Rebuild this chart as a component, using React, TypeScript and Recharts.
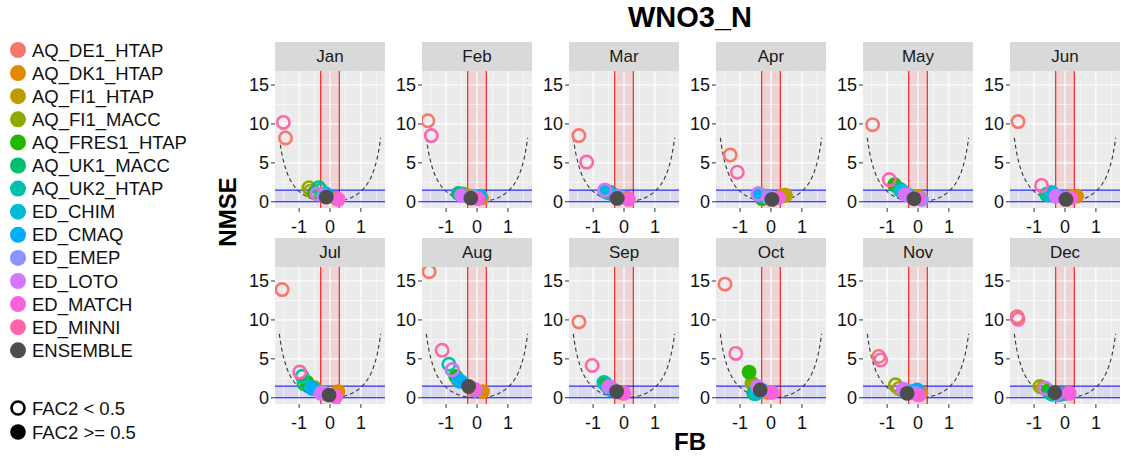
import { ScatterChart, Scatter, XAxis, YAxis, ReferenceLine, ReferenceArea } from "recharts";

const MONTHS = ["Jan", "Feb", "Mar", "Apr", "May", "Jun", "Jul", "Aug", "Sep", "Oct", "Nov", "Dec"];

const MODELS = [
  "AQ_DE1_HTAP", "AQ_DK1_HTAP", "AQ_FI1_HTAP", "AQ_FI1_MACC", "AQ_FRES1_HTAP", "AQ_UK1_MACC",
  "AQ_UK2_HTAP", "ED_CHIM", "ED_CMAQ", "ED_EMEP", "ED_LOTO", "ED_MATCH", "ED_MINNI", "ENSEMBLE",
];

const MODEL_COLORS = [
  "#F8766D", "#E18A00", "#BE9C00", "#8CAB00", "#24B700", "#00BE70",
  "#00C1AB", "#00BBDA", "#00ACFC", "#8B93FF", "#D575FE", "#F962DD", "#FF65AC", "#4D4D4D",
];

// FB per model, Jan..Dec
const FB_DE1 = [-1.44, -1.59, -1.46, -1.32, -1.47, -1.52, -1.55, -1.55, -1.46, -1.49, -1.27, -1.55];
const FB_DK1 = [0.2, 0.15, 0.1, 0.4, 0.05, 0.38, 0.26, 0.18, -0.05, -0.1, 0.1, 0.0];
const FB_FI1H = [-0.62, -0.3, -0.35, 0.47, -0.05, 0.2, -0.2, -0.1, -0.4, -0.55, -0.62, -0.7];
const FB_FI1M = [-0.68, -0.45, -0.5, -0.3, -0.55, -0.4, -0.5, -0.6, -0.55, -0.62, -0.73, -0.81];
const FB_FRES = [-0.5, -0.55, -0.45, -0.29, -0.76, -0.55, -0.75, -0.69, -0.6, -0.71, -0.4, -0.55];
const FB_UK1 = [-0.36, -0.6, -0.55, -0.42, -0.6, -0.6, -0.84, -0.8, -0.6, -0.56, -0.45, -0.45];
const FB_UK2 = [-0.3, -0.5, -0.5, -0.4, -0.55, -0.55, -0.9, -0.91, -0.65, -0.5, -0.4, -0.4];
const FB_CHIM = [-0.15, 0.1, -0.62, -0.35, -0.52, -0.43, -0.6, -0.6, -0.5, -0.45, -0.2, -0.2];
const FB_CMAQ = [-0.1, 0.05, -0.3, -0.4, -0.35, -0.3, -0.57, -0.53, -0.4, -0.35, -0.03, -0.1];
const FB_EMEP = [-0.2, -0.1, -0.2, -0.1, 0.11, 0.0, -0.2, -0.05, -0.15, -0.25, -0.1, -0.25];
const FB_LOTO = [-0.42, -0.5, -0.62, -0.42, -0.41, -0.29, -0.3, -0.8, -0.49, -0.43, -0.48, -0.63];
const FB_MATCH = [0.27, 0.03, 0.14, 0.24, 0.0, 0.2, 0.18, -0.08, 0.0, 0.03, 0.02, 0.14];
const FB_MINNI = [-1.51, -1.48, -1.21, -1.09, -0.93, -0.76, -0.98, -1.13, -1.03, -1.14, -1.21, -1.52];
const FB_ENS = [-0.12, -0.2, -0.22, 0.03, -0.13, 0.03, -0.03, -0.27, -0.24, -0.35, -0.35, -0.33];

// NMSE per model, Jan..Dec
const NMSE_DE1 = [8.2, 10.4, 8.5, 6.0, 9.9, 10.3, 13.9, 16.2, 9.75, 14.6, 5.3, 10.4];
const NMSE_DK1 = [0.45, 0.5, 0.45, 0.8, 0.55, 0.72, 0.8, 0.8, 0.6, 0.7, 0.6, 0.5];
const NMSE_FI1H = [1.4, 0.8, 0.9, 0.85, 0.7, 0.6, 0.6, 1.0, 1.2, 1.6, 1.2, 1.3];
const NMSE_FI1M = [1.8, 1.0, 1.2, 0.8, 1.5, 1.0, 1.3, 2.2, 1.6, 1.9, 1.66, 1.44];
const NMSE_FRES = [1.2, 0.95, 1.2, 0.4, 2.2, 1.0, 2.0, 2.75, 1.75, 3.3, 0.9, 0.9];
const NMSE_UK1 = [1.8, 1.07, 1.3, 1.0, 1.65, 0.94, 1.8, 3.6, 1.8, 0.57, 0.8, 0.5];
const NMSE_UK2 = [1.5, 0.9, 1.2, 1.0, 1.4, 0.9, 2.75, 4.3, 1.97, 0.5, 0.7, 0.45];
const NMSE_CHIM = [1.0, 0.7, 1.36, 0.8, 1.36, 1.2, 1.3, 2.3, 1.3, 0.8, 0.8, 0.4];
const NMSE_CMAQ = [0.9, 0.6, 0.8, 0.94, 0.9, 0.8, 1.2, 2.1, 1.0, 0.9, 1.0, 0.5];
const NMSE_EMEP = [0.8, 0.6, 0.7, 0.6, 0.3, 0.5, 0.6, 1.0, 0.7, 0.9, 0.6, 0.5];
const NMSE_LOTO = [1.0, 0.8, 1.5, 1.0, 0.94, 0.72, 0.57, 3.6, 1.44, 1.44, 1.1, 1.22];
const NMSE_MATCH = [0.3, 0.4, 0.3, 0.5, 0.4, 0.5, 0.13, 1.1, 0.57, 0.66, 0.35, 0.57];
const NMSE_MINNI = [10.2, 8.5, 5.1, 3.8, 2.85, 2.1, 3.3, 6.1, 4.15, 5.7, 4.85, 10.1];
const NMSE_ENS = [0.6, 0.47, 0.43, 0.3, 0.38, 0.3, 0.35, 1.45, 0.8, 1.0, 0.57, 0.66];

// 1 = FAC2 < 0.5 (open circle), Jan..Dec
const LOW_DE1 = [1, 1, 1, 1, 1, 1, 1, 1, 1, 1, 1, 1];
const LOW_DK1 = [0, 0, 0, 0, 0, 0, 0, 0, 0, 0, 0, 0];
const LOW_FI1H = [1, 0, 0, 0, 0, 0, 0, 0, 0, 0, 1, 1];
const LOW_FI1M = [1, 0, 0, 0, 0, 0, 0, 0, 0, 0, 1, 1];
const LOW_FRES = [1, 0, 0, 0, 0, 0, 0, 0, 0, 0, 0, 0];
const LOW_UK1 = [1, 0, 0, 0, 0, 0, 1, 1, 1, 0, 0, 0];
const LOW_UK2 = [1, 0, 0, 0, 0, 0, 1, 1, 1, 0, 0, 0];
const LOW_CHIM = [0, 0, 0, 0, 0, 0, 0, 0, 0, 0, 0, 0];
const LOW_CMAQ = [0, 0, 0, 0, 0, 0, 0, 0, 0, 0, 0, 0];
const LOW_EMEP = [0, 0, 0, 0, 0, 0, 0, 0, 0, 0, 0, 0];
const LOW_LOTO = [1, 0, 1, 1, 0, 0, 0, 1, 0, 0, 0, 1];
const LOW_MATCH = [0, 0, 0, 0, 0, 0, 0, 0, 0, 0, 0, 0];
const LOW_MINNI = [1, 1, 1, 1, 1, 1, 1, 1, 1, 1, 1, 1];
const LOW_ENS = [0, 0, 0, 0, 0, 0, 0, 0, 0, 0, 0, 0];

const FB_ALL = [FB_DE1, FB_DK1, FB_FI1H, FB_FI1M, FB_FRES, FB_UK1, FB_UK2, FB_CHIM, FB_CMAQ, FB_EMEP, FB_LOTO, FB_MATCH, FB_MINNI, FB_ENS];
const NMSE_ALL = [NMSE_DE1, NMSE_DK1, NMSE_FI1H, NMSE_FI1M, NMSE_FRES, NMSE_UK1, NMSE_UK2, NMSE_CHIM, NMSE_CMAQ, NMSE_EMEP, NMSE_LOTO, NMSE_MATCH, NMSE_MINNI, NMSE_ENS];
const LOW_ALL = [LOW_DE1, LOW_DK1, LOW_FI1H, LOW_FI1M, LOW_FRES, LOW_UK1, LOW_UK2, LOW_CHIM, LOW_CMAQ, LOW_EMEP, LOW_LOTO, LOW_MATCH, LOW_MINNI, LOW_ENS];

const X_TICKS = [-1, 0, 1];
const X_MINOR = [-1.5, -0.5, 0.5, 1.5];
const Y_TICKS = [0, 5, 10, 15];
const Y_MINOR = [2.5, 7.5, 12.5];

// lower bound of NMSE for a given FB (dashed guide)
const nmseBound = (fb: number) => (4 * fb * fb) / (4 - fb * fb);
const curve = Array.from({ length: 83 }, (_, k) => {
  const fb = -1.64 + k * 0.04;
  return { fb, nmse: nmseBound(fb) };
});

const FONT = "'Liberation Sans', Arial, sans-serif";
const PANEL_LEFT0 = 275;
const COL_PITCH = 147;
const PANEL_W = 110;
const STRIP_TOP0 = 42;
const ROW_PITCH = 196;
const STRIP_H = 29;
const PLOT_H = 137;
const YAXIS_W = 37;
const XAXIS_H = 34;

const Dot = (props: any) => {
  const { cx, cy, payload } = props;
  if (cx == null || cy == null) return <g />;
  return payload.open ? (
    <circle cx={cx} cy={cy} r={6.2} fill="none" stroke={payload.color} strokeWidth={2.6} />
  ) : (
    <circle cx={cx} cy={cy} r={7.4} fill={payload.color} />
  );
};

const Panel = ({ m }: { m: number }) => {
  const col = m % 6;
  const row = Math.floor(m / 6);
  const panelLeft = PANEL_LEFT0 + col * COL_PITCH;
  const stripTop = STRIP_TOP0 + row * ROW_PITCH;
  const rows = MODELS.map((name, i) => ({
    name,
    fb: FB_ALL[i][m],
    nmse: NMSE_ALL[i][m],
    open: LOW_ALL[i][m] === 1,
    color: MODEL_COLORS[i],
  }));
  const tick = { fontSize: 18, fill: "#111", fontFamily: FONT };

  return (
    <>
      <div
        style={{
          position: "absolute", left: panelLeft, top: stripTop, width: PANEL_W, height: STRIP_H,
          background: "#D9D9D9", color: "#1a1a1a", fontFamily: FONT, fontSize: 17,
          display: "flex", alignItems: "center", justifyContent: "center",
        }}
      >
        {MONTHS[m]}
      </div>
      <div
        style={{
          position: "absolute", left: panelLeft, top: stripTop + STRIP_H,
          width: PANEL_W, height: PLOT_H, background: "#EBEBEB",
        }}
      />
      <div style={{ position: "absolute", left: panelLeft - YAXIS_W, top: stripTop + STRIP_H }}>
        <ScatterChart
          width={YAXIS_W + PANEL_W}
          height={PLOT_H + XAXIS_H}
          margin={{ top: 0, right: 0, bottom: 0, left: 0 }}
        >
          <XAxis
            type="number" dataKey="fb" domain={[-1.78, 1.78]} ticks={X_TICKS} allowDataOverflow
            axisLine={false} tickLine={{ stroke: "#333" }} tickSize={4} tickMargin={8} tick={tick}
            height={XAXIS_H} interval={0}
          />
          <YAxis
            type="number" dataKey="nmse" domain={[-0.8, 16.8]} ticks={Y_TICKS} allowDataOverflow
            axisLine={false} tickLine={{ stroke: "#333" }} tickSize={4} tick={tick} width={YAXIS_W} interval={0}
          />
          {X_MINOR.map((v) => (
            <ReferenceLine key={`xm${v}`} x={v} stroke="#fff" strokeWidth={0.6} />
          ))}
          {Y_MINOR.map((v) => (
            <ReferenceLine key={`ym${v}`} y={v} stroke="#fff" strokeWidth={0.6} />
          ))}
          {X_TICKS.map((v) => (
            <ReferenceLine key={`x${v}`} x={v} stroke="#fff" strokeWidth={1.2} />
          ))}
          {Y_TICKS.map((v) => (
            <ReferenceLine key={`y${v}`} y={v} stroke="#fff" strokeWidth={1.2} />
          ))}
          <ReferenceArea x1={-0.3} x2={0.3} y1={-0.8} y2={16.8} fill="#FF0000" fillOpacity={0.1} stroke="none" />
          <ReferenceArea x1={-1.78} x2={1.78} y1={0} y2={1.5} fill="#0000FF" fillOpacity={0.07} stroke="none" />
          <ReferenceLine x={-0.3} stroke="#FF0000" strokeWidth={1} />
          <ReferenceLine x={0.3} stroke="#FF0000" strokeWidth={1} />
          <ReferenceLine y={0} stroke="#0000FF" strokeWidth={1} />
          <ReferenceLine y={1.5} stroke="#0000FF" strokeWidth={1} />
          <Scatter
            data={curve}
            isAnimationActive={false}
            line={{ stroke: "#333", strokeWidth: 1.1, strokeDasharray: "4 3" }}
            shape={() => <g />}
          />
          <Scatter data={rows} isAnimationActive={false} shape={Dot} />
        </ScatterChart>
      </div>
    </>
  );
};

const App = () => {
  return (
    <div
      style={{
        position: "absolute", left: 0, top: 0, width: 1121, height: 463,
        background: "#fff", fontFamily: FONT, overflow: "hidden",
      }}
    >
      <div
        style={{
          position: "absolute", left: 590, width: 200, top: 1, textAlign: "center",
          fontSize: 29, fontWeight: "bold", color: "#000",
        }}
      >
        WNO3_N
      </div>
      <div
        style={{
          position: "absolute", left: 640, width: 100, top: 428, textAlign: "center",
          fontSize: 24, fontWeight: "bold", color: "#000",
        }}
      >
        FB
      </div>
      <div
        style={{
          position: "absolute", left: 178, top: 198, width: 100, textAlign: "center",
          fontSize: 24, fontWeight: "bold", color: "#000", transform: "rotate(-90deg)",
        }}
      >
        NMSE
      </div>
      <svg width={220} height={463} style={{ position: "absolute", left: 0, top: 0 }}>
        {MODELS.map((name, i) => (
          <g key={name}>
            <circle cx={18} cy={50 + i * 23.1} r={8} fill={MODEL_COLORS[i]} />
            <text x={32} y={50 + i * 23.1 + 6.5} fontSize={18.5} fontFamily={FONT} fill="#111">
              {name}
            </text>
          </g>
        ))}
        <circle cx={18} cy={408} r={6.5} fill="none" stroke="#000" strokeWidth={2.6} />
        <text x={32} y={414.5} fontSize={18.5} fontFamily={FONT} fill="#111">FAC2 &lt; 0.5</text>
        <circle cx={18} cy={432} r={7.8} fill="#000" />
        <text x={32} y={438.5} fontSize={18.5} fontFamily={FONT} fill="#111">FAC2 &gt;= 0.5</text>
      </svg>
      {MONTHS.map((_, m) => (
        <Panel key={m} m={m} />
      ))}
    </div>
  );
};

export default App;
